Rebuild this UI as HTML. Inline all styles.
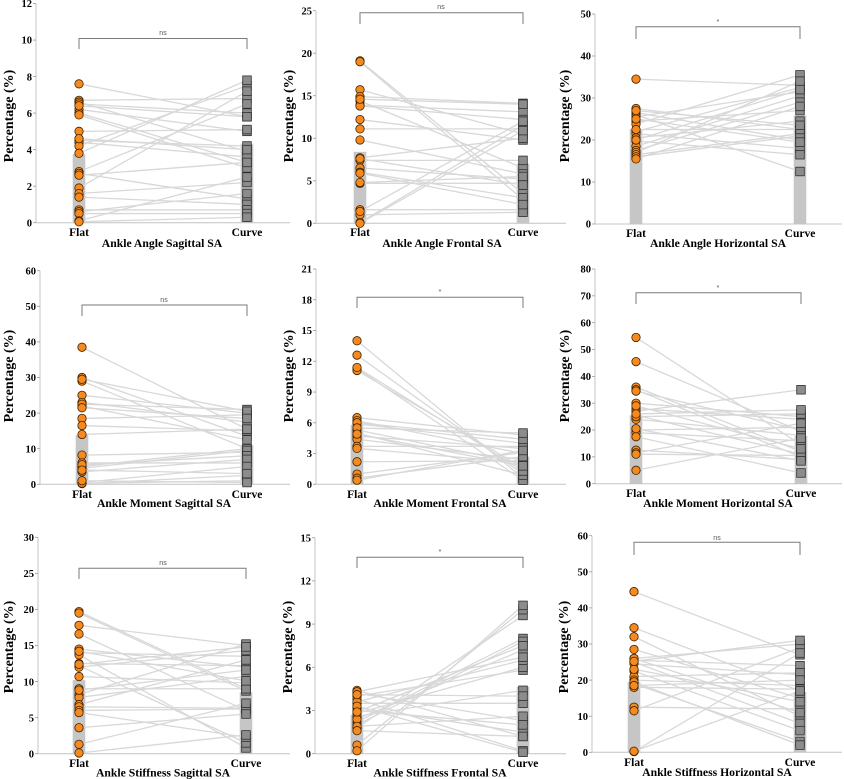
<!DOCTYPE html>
<html><head><meta charset="utf-8"><style>
html,body{margin:0;padding:0;background:#fff;}
svg{display:block;}
text{font-family:"Liberation Serif","Times New Roman",serif;font-weight:bold;fill:#000;}
.tk{font-size:10.5px;text-anchor:end;}
.yl{font-size:14px;text-anchor:middle;}
.xl{font-size:11.5px;text-anchor:middle;}
.tt{font-size:11.7px;text-anchor:middle;}
.sg{font-size:7px;font-weight:normal;fill:#555;text-anchor:middle;font-family:"Liberation Sans",sans-serif;}
</style></head><body>
<svg id="c" width="844" height="779" viewBox="0 0 844 779" xmlns="http://www.w3.org/2000/svg">
<g id="shapes"></g>
<g id="txt">
<!-- Panel 1 -->
<g class="tk" transform="translate(32,0)"><text y="222.7" dy=".35em">0</text><text y="186.2" dy=".35em">2</text><text y="149.6" dy=".35em">4</text><text y="113.1" dy=".35em">6</text><text y="76.6" dy=".35em">8</text><text y="40" dy=".35em">10</text><text y="3.5" dy=".35em">12</text></g>
<text class="yl" transform="translate(8,116) rotate(-90)" dy=".35em">Percentage (%)</text>
<text class="xl" x="79" y="232" dy=".35em">Flat</text><text class="xl" x="247" y="232" dy=".35em">Curve</text>
<text class="tt" x="162" y="243" dy=".35em">Ankle Angle Sagittal SA</text>
<text class="sg" x="163" y="35">ns</text>
<!-- Panel 2 -->
<g class="tk" transform="translate(312,0)"><text y="223.3" dy=".35em">0</text><text y="180.8" dy=".35em">5</text><text y="138.3" dy=".35em">10</text><text y="95.7" dy=".35em">15</text><text y="53.2" dy=".35em">20</text><text y="10.7" dy=".35em">25</text></g>
<text class="yl" transform="translate(288,116) rotate(-90)" dy=".35em">Percentage (%)</text>
<text class="xl" x="360" y="232" dy=".35em">Flat</text><text class="xl" x="523" y="232" dy=".35em">Curve</text>
<text class="tt" x="442" y="243" dy=".35em">Ankle Angle Frontal SA</text>
<text class="sg" x="441" y="9">ns</text>
<!-- Panel 3 -->
<g class="tk" transform="translate(591,0)"><text y="224" dy=".35em">0</text><text y="182" dy=".35em">10</text><text y="140" dy=".35em">20</text><text y="98" dy=".35em">30</text><text y="56" dy=".35em">40</text><text y="14" dy=".35em">50</text></g>
<text class="yl" transform="translate(564,116) rotate(-90)" dy=".35em">Percentage (%)</text>
<text class="xl" x="636" y="233" dy=".35em">Flat</text><text class="xl" x="800" y="233" dy=".35em">Curve</text>
<text class="tt" x="718" y="243" dy=".35em">Ankle Angle Horizontal SA</text>
<text class="sg" x="718" y="24">*</text>
<!-- Panel 4 -->
<g class="tk" transform="translate(36,0)"><text y="484.3" dy=".35em">0</text><text y="448.7" dy=".35em">10</text><text y="413.1" dy=".35em">20</text><text y="377.5" dy=".35em">30</text><text y="341.9" dy=".35em">40</text><text y="306.3" dy=".35em">50</text><text y="270.7" dy=".35em">60</text></g>
<text class="yl" transform="translate(8,376) rotate(-90)" dy=".35em">Percentage (%)</text>
<text class="xl" x="82" y="494" dy=".35em">Flat</text><text class="xl" x="247" y="494" dy=".35em">Curve</text>
<text class="tt" x="164" y="503" dy=".35em">Ankle Moment Sagittal SA</text>
<text class="sg" x="164" y="302">ns</text>
<!-- Panel 5 -->
<g class="tk" transform="translate(312,0)"><text y="484.3" dy=".35em">0</text><text y="453.5" dy=".35em">3</text><text y="422.8" dy=".35em">6</text><text y="392" dy=".35em">9</text><text y="361.3" dy=".35em">12</text><text y="330.5" dy=".35em">15</text><text y="299.8" dy=".35em">18</text><text y="269" dy=".35em">21</text></g>
<text class="yl" transform="translate(288,376) rotate(-90)" dy=".35em">Percentage (%)</text>
<text class="xl" x="357" y="494" dy=".35em">Flat</text><text class="xl" x="523" y="494" dy=".35em">Curve</text>
<text class="tt" x="440" y="503" dy=".35em">Ankle Moment Frontal SA</text>
<text class="sg" x="440" y="294">*</text>
<!-- Panel 6 -->
<g class="tk" transform="translate(591,0)"><text y="483.7" dy=".35em">0</text><text y="456.9" dy=".35em">10</text><text y="430" dy=".35em">20</text><text y="403.2" dy=".35em">30</text><text y="376.3" dy=".35em">40</text><text y="349.5" dy=".35em">50</text><text y="322.7" dy=".35em">60</text><text y="295.8" dy=".35em">70</text><text y="269" dy=".35em">80</text></g>
<text class="yl" transform="translate(564,376) rotate(-90)" dy=".35em">Percentage (%)</text>
<text class="xl" x="636" y="493" dy=".35em">Flat</text><text class="xl" x="801" y="493" dy=".35em">Curve</text>
<text class="tt" x="718" y="503" dy=".35em">Ankle Moment Horizontal SA</text>
<text class="sg" x="718" y="290">*</text>
<!-- Panel 7 -->
<g class="tk" transform="translate(34,0)"><text y="753.7" dy=".35em">0</text><text y="717.6" dy=".35em">5</text><text y="681.6" dy=".35em">10</text><text y="645.5" dy=".35em">15</text><text y="609.4" dy=".35em">20</text><text y="573.4" dy=".35em">25</text><text y="537.3" dy=".35em">30</text></g>
<text class="yl" transform="translate(8,647) rotate(-90)" dy=".35em">Percentage (%)</text>
<text class="xl" x="79" y="763" dy=".35em">Flat</text><text class="xl" x="246" y="763" dy=".35em">Curve</text>
<text class="tt" x="163" y="772.5" dy=".35em">Ankle Stiffness Sagittal SA</text>
<text class="sg" x="163" y="565">ns</text>
<!-- Panel 8 -->
<g class="tk" transform="translate(311,0)"><text y="753.7" dy=".35em">0</text><text y="710.5" dy=".35em">3</text><text y="667.3" dy=".35em">6</text><text y="624.1" dy=".35em">9</text><text y="580.9" dy=".35em">12</text><text y="537.7" dy=".35em">15</text></g>
<text class="yl" transform="translate(287,647) rotate(-90)" dy=".35em">Percentage (%)</text>
<text class="xl" x="357" y="763" dy=".35em">Flat</text><text class="xl" x="523" y="763" dy=".35em">Curve</text>
<text class="tt" x="440" y="772.5" dy=".35em">Ankle Stiffness Frontal SA</text>
<text class="sg" x="440" y="554">*</text>
<!-- Panel 9 -->
<g class="tk" transform="translate(588,0)"><text y="752.3" dy=".35em">0</text><text y="716.2" dy=".35em">10</text><text y="680.1" dy=".35em">20</text><text y="644" dy=".35em">30</text><text y="607.9" dy=".35em">40</text><text y="571.8" dy=".35em">50</text><text y="535.7" dy=".35em">60</text></g>
<text class="yl" transform="translate(563,647) rotate(-90)" dy=".35em">Percentage (%)</text>
<text class="xl" x="634" y="762" dy=".35em">Flat</text><text class="xl" x="800" y="762" dy=".35em">Curve</text>
<text class="tt" x="717" y="772" dy=".35em">Ankle Stiffness Horizontal SA</text>
<text class="sg" x="717" y="540">ns</text>
</g>
</svg>
<script>
var P=[
{ax:36,y0:222.7,yt:3.5,max:12,st:2,xF:79,xC:247,xE:290,bY:38.5,bB:49,bF:3.75,bC:4.3,
d:[[7.6,5.8],[6.7,6.8],[6.6,3.9],[6.5,6.0],[6.2,5.0],[6.0,3.3],[5.9,3.0],[5.0,5.1],[4.5,4.2],[4.4,3.6],[4.2,7.5],[3.8,7.8],[2.8,6.5],[2.7,1.3],[2.6,3.3],[1.9,7.2],[1.6,2.2],[1.4,1.0],[0.7,0.7],[0.6,1.6],[0.5,0.5],[0.1,2.5],[0.05,0.3],[6.4,5.8],[4.6,4.0]]},
{ax:316,y0:223.3,yt:10.7,max:25,st:5,xF:360,xC:523,xE:566,bY:12.7,bB:24,bF:8.4,bC:7.0,
d:[[19.1,3.5],[19.0,2.8],[15.7,10.5],[14.9,14.1],[14.4,6.5],[13.9,13.1],[13.8,12.2],[12.2,9.8],[11.1,11.1],[9.8,5.8],[7.7,10.0],[7.4,7.4],[6.5,5.2],[6.0,3.0],[4.7,4.7],[4.8,5.5],[1.6,1.6],[1.0,1.3],[0.1,11.5],[0.0,10.9],[1.4,12.0],[14.6,14.0],[7.6,4.5],[5.9,2.2]]},
{ax:595,y0:224,yt:14,max:50,st:10,xF:636,xC:800,xE:842,bY:26.7,bB:39,bF:22.6,bC:25.8,
d:[[34.5,33.0],[27.5,22.5],[26.5,20.0],[26.0,12.5],[25.5,31.5],[24.5,27.0],[23.8,35.5],[22.0,32.5],[21.5,18.0],[20.5,24.5],[19.8,16.5],[18.5,30.5],[17.5,29.0],[17.0,34.0],[16.5,21.5],[16.0,21.0],[15.5,28.0],[25.0,19.5],[22.5,22.5],[20.0,32.0],[27.0,23.5]]},
{ax:40,y0:484.3,yt:270.7,max:60,st:10,xF:82,xC:247,xE:290,bY:305,bB:316,bF:13.8,bC:11,
d:[[38.5,15.5],[30,13.5],[29,10],[25,20],[23,17.5],[22,12.5],[22.5,21],[18.5,19.5],[16.5,15],[14,15.5],[8.2,9],[6,6],[5,10],[4.5,9.5],[5.5,8],[3.5,7],[0.5,5],[0.2,2.5],[0.3,1],[1,0.5],[4,3],[29.5,20.5],[21.5,18.5]]},
{ax:316,y0:484.3,yt:269,max:21,st:3,xF:357,xC:523,xE:566,bY:297.3,bB:308,bF:5.8,bC:2.7,
d:[[14,0.6],[12.6,1.0],[11.3,0.4],[11.1,1.6],[6.5,4.8],[6.2,3.0],[5.9,4.0],[5.3,2.0],[5.0,0.9],[4.7,3.5],[4.4,2.4],[3.7,3.7],[3.5,2.1],[2.2,2.3],[1.0,3.1],[0.6,2.7],[0.4,3.3],[6.0,4.4],[5.5,5.0],[11.4,1.3],[4.9,1.8]]},
{ax:595,y0:483.7,yt:269,max:80,st:10,xF:636,xC:801,xE:842,bY:292.7,bB:304,bF:25.5,bC:17.8,
d:[[54.5,14.5],[45.5,19.5],[36,12],[35,10],[34.5,20],[30,25],[28,24],[27,35],[25.5,11],[24,18],[25,26],[20,21],[19,16],[17.5,4],[12.5,9],[11.5,22.5],[11,10.5],[5,17],[29,13],[20.5,8.5],[26,27.5]]},
{ax:38,y0:753.7,yt:537.3,max:30,st:5,xF:79,xC:246,xE:290,bY:568.3,bB:579,bF:10.2,bC:8.5,
d:[[19.7,9.0],[19.5,8.7],[17.8,15.0],[16.6,6.0],[14.5,12.0],[14.0,13.5],[13.7,0.8],[12.5,12.2],[12.2,1.5],[12.0,14.3],[10.7,9.8],[9.0,9.0],[8.2,15.2],[7.8,10.7],[6.8,13.0],[6.5,6.3],[6.0,6.2],[5.7,2.3],[3.6,5.5],[1.3,7.0],[0.1,2.6],[12.4,14.8],[8.8,11.6],[14.2,10.1]]},
{ax:315,y0:753.7,yt:537.7,max:15,st:3,xF:357,xC:523,xE:566,bY:557.3,bB:568,bF:2.7,bC:4.65,
d:[[4.4,1.2],[4.2,2.3],[4.0,5.8],[3.8,0.2],[3.5,3.5],[3.2,1.5],[3.0,2.0],[2.8,6.0],[2.6,4.4],[2.2,8.0],[2.0,7.8],[1.8,9.6],[0.6,10.0],[0.2,10.3],[3.6,6.5],[2.4,7.2],[1.9,2.6],[3.3,0.1],[4.3,6.7],[1.6,1.2],[4.1,4.0],[2.9,7.5]]},
{ax:592,y0:752.3,yt:535.7,max:60,st:10,xF:634,xC:800,xE:842,bY:542.3,bB:555,bF:19.5,bC:16.7,
d:[[44.5,27],[34.5,17],[32,10],[28.5,15],[26,30],[25.5,24],[25,8],[24.5,21.5],[22.5,6],[21,22],[20,18.5],[19,3],[18,17.5],[12.5,12],[11.5,29],[0.2,27.5],[0.3,17],[26,11],[23,14],[19.5,2],[25.2,31],[18.5,20]]}
];
var NS="http://www.w3.org/2000/svg",G=document.getElementById("shapes");
function el(t,a,p){var e=document.createElementNS(NS,t);for(var k in a)e.setAttribute(k,a[k]);(p||G).appendChild(e);return e;}
P.forEach(function(p){
  var Y=function(v){return p.y0-(p.y0-p.yt)*v/p.max;};
  // bars
  [[p.xF,p.bF],[p.xC,p.bC]].forEach(function(b){var t=Y(b[1]);el("rect",{x:b[0]-6.3,y:t,width:12.6,height:p.y0-t,fill:"#c6c6c6"});});
  // axes
  el("line",{x1:p.ax,y1:p.yt,x2:p.ax,y2:p.y0,stroke:"#c4c4c4","stroke-width":1});
  el("line",{x1:p.ax,y1:p.y0,x2:p.xE,y2:p.y0,stroke:"#c4c4c4","stroke-width":1});
  for(var v=0;v<=p.max+1e-6;v+=p.st){el("line",{x1:p.ax-3,y1:Y(v),x2:p.ax,y2:Y(v),stroke:"#999","stroke-width":0.8});}
  // connecting lines
  p.d.forEach(function(q){el("line",{x1:p.xF,y1:Y(q[0]),x2:p.xC,y2:Y(q[1]),stroke:"#d8d8d8","stroke-width":1.3});});
  // bracket
  el("path",{d:"M"+p.xF+" "+p.bB+"V"+p.bY+"H"+p.xC+"V"+p.bB,fill:"none",stroke:"#7a7a7a","stroke-width":1});
  // markers
  p.d.forEach(function(q){el("rect",{x:p.xC-4.3,y:Y(q[1])-4.3,width:8.6,height:8.6,fill:"#8c8c8c",stroke:"#2e2e2e","stroke-width":0.8});});
  p.d.forEach(function(q){el("circle",{cx:p.xF,cy:Y(q[0]),r:4.2,fill:"#f68a1f",stroke:"#3d2200","stroke-width":0.8});});
});
</script>
</body></html>
